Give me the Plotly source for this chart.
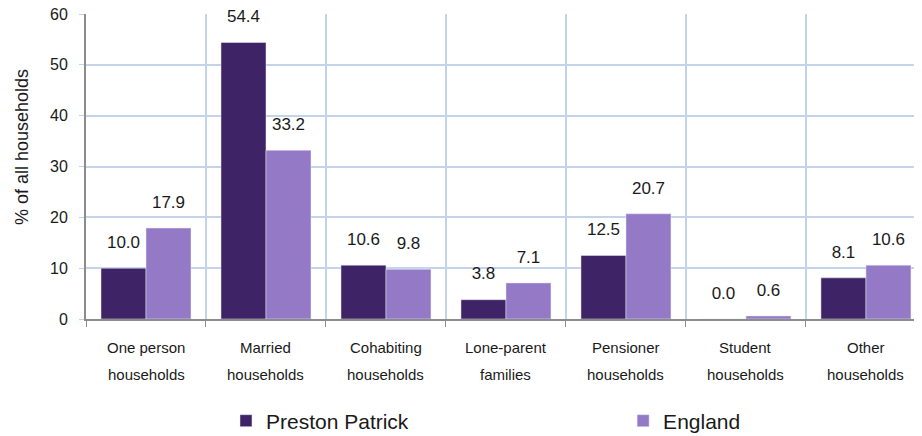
import plotly.graph_objects as go

categories = ["One person<br>households", "Married<br>households", "Cohabiting<br>households",
              "Lone-parent<br>families", "Pensioner<br>households", "Student<br>households",
              "Other<br>households"]
preston_patrick = [10.0, 54.4, 10.6, 3.8, 12.5, 0.0, 8.1]
england = [17.9, 33.2, 9.8, 7.1, 20.7, 0.6, 10.6]

font = "Liberation Sans, Arial, sans-serif"
grid = "#c3d4e8"
axis_grey = "#8c8c8c"
dark = "#3e2367"
light = "#9479c6"

fig = go.Figure()
fig.add_trace(go.Bar(x=categories, y=preston_patrick, name="Preston Patrick",
                     marker_color=dark, legend="legend"))
fig.add_trace(go.Bar(x=categories, y=england, name="England",
                     marker_color=light, legend="legend2"))

# value labels: grouped text scatters, an invisible marker keeps them clear of the bars
for vals in (preston_patrick, england):
    fig.add_trace(go.Scatter(x=categories, y=vals, mode="markers+text",
                             text=[f"{v:.1f}" for v in vals], textposition="top center",
                             textfont=dict(size=17, color="#1a1a1a"),
                             marker=dict(size=24, opacity=0), showlegend=False,
                             hoverinfo="skip", cliponaxis=False))

# category labels as annotations so the two lines can sit further apart
for c in categories:
    for i, line in enumerate(c.split("<br>")):
        fig.add_annotation(x=c, y=0, xref="x", yref="paper", text=line, showarrow=False,
                           yanchor="middle", yshift=-28 - 27 * i, font=dict(size=15))

fig.add_annotation(x=0, y=0.564, xref="paper", yref="paper", xshift=-64, xanchor="center",
                   text="% of all households", textangle=-90, showarrow=False,
                   font=dict(size=18))

leg = dict(xref="container", yref="container", xanchor="left", yanchor="middle",
           y=0.035, font=dict(size=21), bgcolor="rgba(0,0,0,0)")
# page body has an 8px margin, so the figure is sized to fill the rest of the window
fig.update_layout(
    width=914, height=428,
    margin=dict(l=78, r=0, t=6, b=117, autoexpand=False),
    paper_bgcolor="white", plot_bgcolor="white",
    font=dict(family=font, size=14, color="#1a1a1a"),
    barmode="group", bargap=0.25, bargroupgap=0,
    scattermode="group", scattergap=0.25,
    showlegend=True,
    legend=dict(leg, x=0.2385),
    legend2=dict(leg, x=0.673),
)
fig.update_xaxes(range=[-0.5, 6.467], tickson="boundaries", ticks="outside", ticklen=6,
                 tickcolor=axis_grey, showline=True, linecolor=axis_grey, linewidth=2,
                 showgrid=True, gridcolor=grid, gridwidth=2, showticklabels=False,
                 automargin=False)
fig.update_yaxes(range=[0, 60.01], dtick=10, ticks="outside", ticklen=5, tickcolor=grid,
                 ticklabelstandoff=8, ticklabeloverflow="allow",
                 showline=True, linecolor=axis_grey, linewidth=2, showgrid=True,
                 gridcolor=grid, gridwidth=2, tickfont=dict(size=16),
                 zeroline=False, automargin=False)

fig.write_html("out.html")
